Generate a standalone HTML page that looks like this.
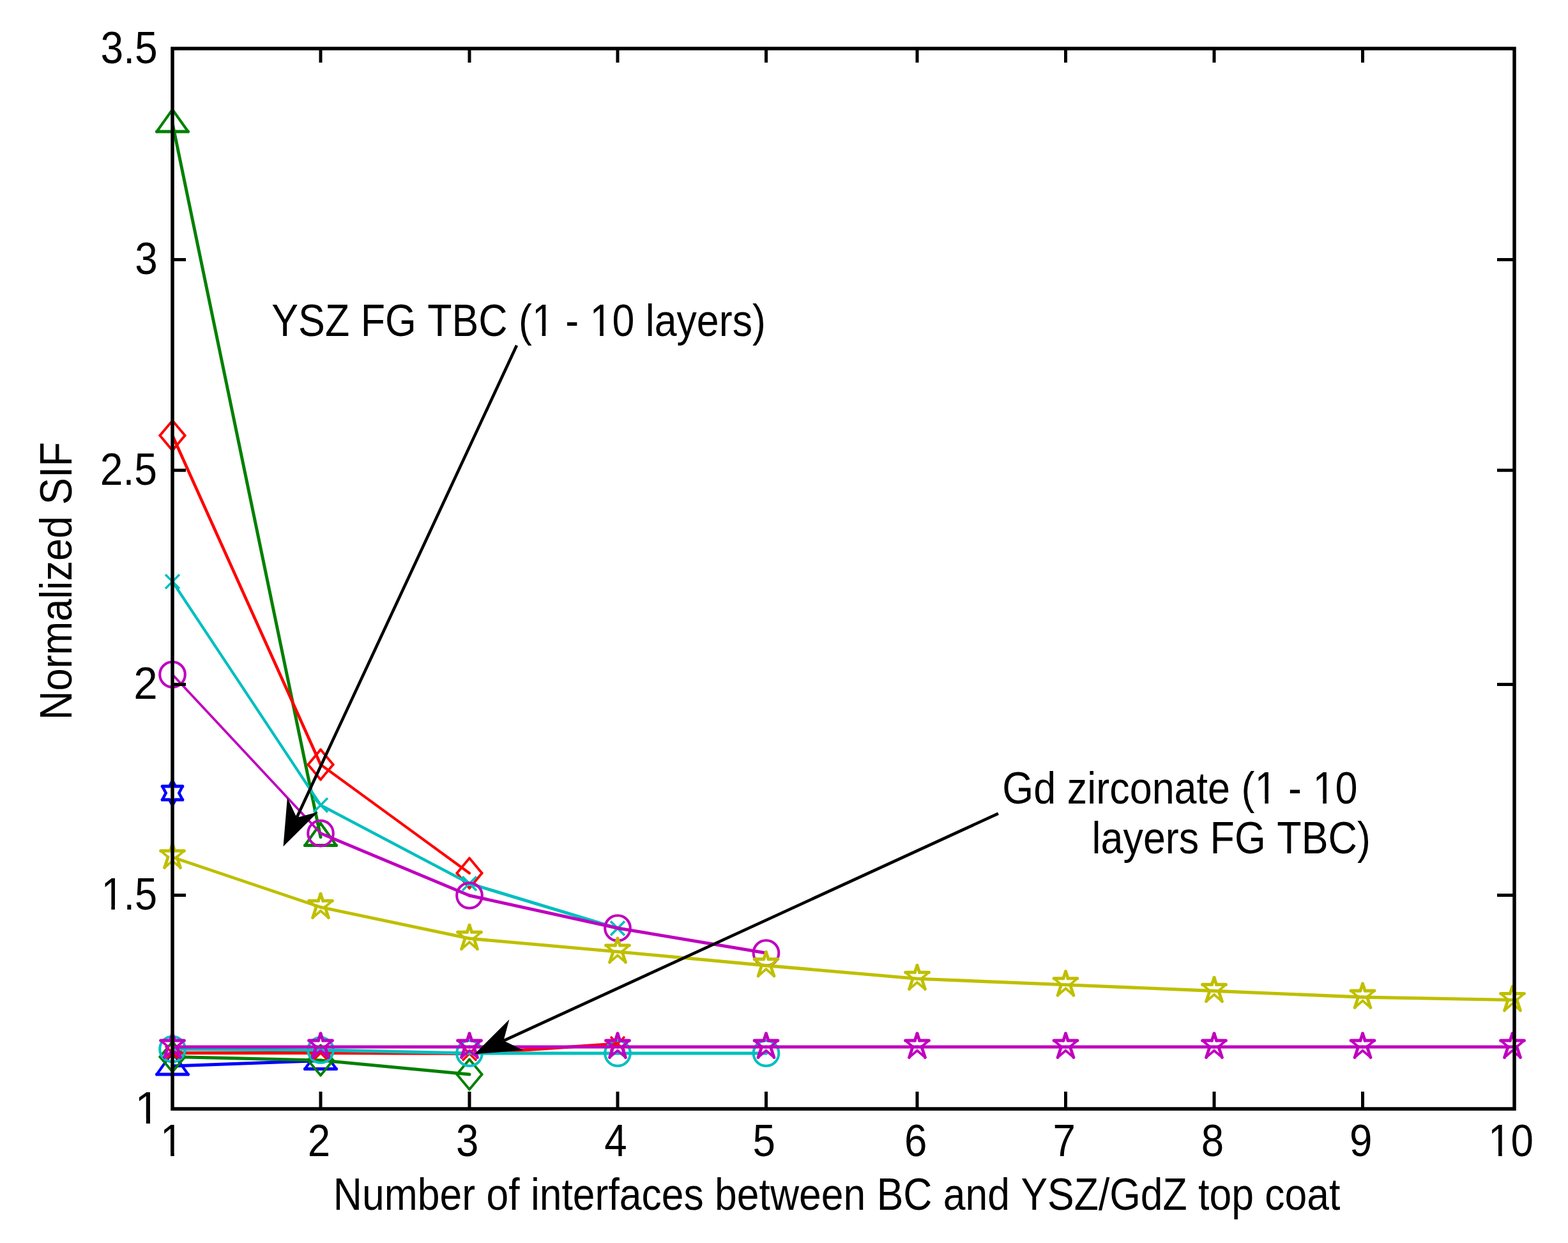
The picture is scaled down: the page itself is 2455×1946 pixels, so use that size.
<!DOCTYPE html><html><head><meta charset="utf-8"><title>Normalized SIF vs number of interfaces</title>
<style>html,body{margin:0;padding:0;background:#fff;}body{width:2455px;height:1946px;overflow:hidden;}svg{display:block;}text{font-family:"Liberation Sans", Arial, Helvetica, sans-serif;fill:#000;}</style></head><body>
<svg width="2455" height="1946" viewBox="0 0 2455 1946">
<rect width="2455" height="1946" fill="#fff"/>
<g id="gdz">
<g><line x1="270" y1="1669" x2="502" y2="1660.5" stroke="#0000FF" stroke-width="5.10" stroke-linecap="round"/><line x1="270" y1="1647.5" x2="294.5" y2="1682" stroke="#0000FF" stroke-width="4.16" stroke-linecap="round"/><line x1="294.5" y1="1682" x2="245.5" y2="1682" stroke="#0000FF" stroke-width="5.10" stroke-linecap="round"/><line x1="245.5" y1="1682" x2="270" y2="1647.5" stroke="#0000FF" stroke-width="4.16" stroke-linecap="round"/><line x1="502" y1="1639" x2="526.5" y2="1673.5" stroke="#0000FF" stroke-width="4.16" stroke-linecap="round"/><line x1="526.5" y1="1673.5" x2="477.5" y2="1673.5" stroke="#0000FF" stroke-width="5.10" stroke-linecap="round"/><line x1="477.5" y1="1673.5" x2="502" y2="1639" stroke="#0000FF" stroke-width="4.16" stroke-linecap="round"/></g>
<g><line x1="270" y1="1654.5" x2="502" y2="1660" stroke="#008000" stroke-width="5.10" stroke-linecap="round"/><line x1="502" y1="1660" x2="735" y2="1682" stroke="#008000" stroke-width="5.08" stroke-linecap="round"/><line x1="270" y1="1631.1" x2="289.6" y2="1654.5" stroke="#008000" stroke-width="3.91" stroke-linecap="round"/><line x1="289.6" y1="1654.5" x2="270" y2="1677.9" stroke="#008000" stroke-width="3.91" stroke-linecap="round"/><line x1="270" y1="1677.9" x2="250.4" y2="1654.5" stroke="#008000" stroke-width="3.91" stroke-linecap="round"/><line x1="250.4" y1="1654.5" x2="270" y2="1631.1" stroke="#008000" stroke-width="3.91" stroke-linecap="round"/><line x1="502" y1="1636.6" x2="521.6" y2="1660" stroke="#008000" stroke-width="3.91" stroke-linecap="round"/><line x1="521.6" y1="1660" x2="502" y2="1683.4" stroke="#008000" stroke-width="3.91" stroke-linecap="round"/><line x1="502" y1="1683.4" x2="482.4" y2="1660" stroke="#008000" stroke-width="3.91" stroke-linecap="round"/><line x1="482.4" y1="1660" x2="502" y2="1636.6" stroke="#008000" stroke-width="3.91" stroke-linecap="round"/><line x1="735" y1="1658.6" x2="754.6" y2="1682" stroke="#008000" stroke-width="3.91" stroke-linecap="round"/><line x1="754.6" y1="1682" x2="735" y2="1705.4" stroke="#008000" stroke-width="3.91" stroke-linecap="round"/><line x1="735" y1="1705.4" x2="715.4" y2="1682" stroke="#008000" stroke-width="3.91" stroke-linecap="round"/><line x1="715.4" y1="1682" x2="735" y2="1658.6" stroke="#008000" stroke-width="3.91" stroke-linecap="round"/></g>
<g><line x1="270" y1="1648.5" x2="502" y2="1648.5" stroke="#FF0000" stroke-width="5.10" stroke-linecap="round"/><line x1="502" y1="1648.5" x2="735" y2="1649.5" stroke="#FF0000" stroke-width="5.10" stroke-linecap="round"/><line x1="735" y1="1649.5" x2="967" y2="1634" stroke="#FF0000" stroke-width="5.09" stroke-linecap="round"/><line x1="259" y1="1637.5" x2="281" y2="1659.5" stroke="#FF0000" stroke-width="3.61" stroke-linecap="butt"/><line x1="259" y1="1659.5" x2="281" y2="1637.5" stroke="#FF0000" stroke-width="3.61" stroke-linecap="butt"/><line x1="491" y1="1637.5" x2="513" y2="1659.5" stroke="#FF0000" stroke-width="3.61" stroke-linecap="butt"/><line x1="491" y1="1659.5" x2="513" y2="1637.5" stroke="#FF0000" stroke-width="3.61" stroke-linecap="butt"/><line x1="724" y1="1638.5" x2="746" y2="1660.5" stroke="#FF0000" stroke-width="3.61" stroke-linecap="butt"/><line x1="724" y1="1660.5" x2="746" y2="1638.5" stroke="#FF0000" stroke-width="3.61" stroke-linecap="butt"/><line x1="956" y1="1623" x2="978" y2="1645" stroke="#FF0000" stroke-width="3.61" stroke-linecap="butt"/><line x1="956" y1="1645" x2="978" y2="1623" stroke="#FF0000" stroke-width="3.61" stroke-linecap="butt"/></g>
<g><line x1="270" y1="1642.5" x2="502" y2="1644" stroke="#00BFBF" stroke-width="5.10" stroke-linecap="round"/><line x1="502" y1="1644" x2="735" y2="1649" stroke="#00BFBF" stroke-width="5.10" stroke-linecap="round"/><line x1="735" y1="1649" x2="967" y2="1649" stroke="#00BFBF" stroke-width="5.10" stroke-linecap="round"/><line x1="967" y1="1649" x2="1199.5" y2="1649" stroke="#00BFBF" stroke-width="5.10" stroke-linecap="round"/><circle cx="270" cy="1642.5" r="19.8" fill="none" stroke="#00BFBF" stroke-width="4.1"/><circle cx="502" cy="1644" r="19.8" fill="none" stroke="#00BFBF" stroke-width="4.1"/><circle cx="735" cy="1649" r="19.8" fill="none" stroke="#00BFBF" stroke-width="4.1"/><circle cx="967" cy="1649" r="19.8" fill="none" stroke="#00BFBF" stroke-width="4.1"/><circle cx="1199.5" cy="1649" r="19.8" fill="none" stroke="#00BFBF" stroke-width="4.1"/></g>
<g><line x1="270" y1="1639" x2="502" y2="1639" stroke="#BF00BF" stroke-width="5.10" stroke-linecap="round"/><line x1="502" y1="1639" x2="735" y2="1639" stroke="#BF00BF" stroke-width="5.10" stroke-linecap="round"/><line x1="735" y1="1639" x2="967" y2="1639" stroke="#BF00BF" stroke-width="5.10" stroke-linecap="round"/><line x1="967" y1="1639" x2="1199.5" y2="1639" stroke="#BF00BF" stroke-width="5.10" stroke-linecap="round"/><line x1="1199.5" y1="1639" x2="1436" y2="1639" stroke="#BF00BF" stroke-width="5.10" stroke-linecap="round"/><line x1="1436" y1="1639" x2="1668.5" y2="1639" stroke="#BF00BF" stroke-width="5.10" stroke-linecap="round"/><line x1="1668.5" y1="1639" x2="1901" y2="1639" stroke="#BF00BF" stroke-width="5.10" stroke-linecap="round"/><line x1="1901" y1="1639" x2="2133.5" y2="1639" stroke="#BF00BF" stroke-width="5.10" stroke-linecap="round"/><line x1="2133.5" y1="1639" x2="2368" y2="1639" stroke="#BF00BF" stroke-width="5.10" stroke-linecap="round"/><line x1="270" y1="1618" x2="273.65" y2="1629" stroke="#BF00BF" stroke-width="4.84" stroke-linecap="round"/><line x1="273.65" y1="1629" x2="288.3" y2="1629" stroke="#BF00BF" stroke-width="5.10" stroke-linecap="round"/><line x1="288.3" y1="1629" x2="276.9" y2="1638.81" stroke="#BF00BF" stroke-width="3.87" stroke-linecap="round"/><line x1="276.9" y1="1638.81" x2="282.4" y2="1655.4" stroke="#BF00BF" stroke-width="4.84" stroke-linecap="round"/><line x1="282.4" y1="1655.4" x2="270" y2="1644.74" stroke="#BF00BF" stroke-width="3.87" stroke-linecap="round"/><line x1="270" y1="1644.74" x2="257.6" y2="1655.4" stroke="#BF00BF" stroke-width="3.87" stroke-linecap="round"/><line x1="257.6" y1="1655.4" x2="263.1" y2="1638.81" stroke="#BF00BF" stroke-width="4.84" stroke-linecap="round"/><line x1="263.1" y1="1638.81" x2="251.7" y2="1629" stroke="#BF00BF" stroke-width="3.87" stroke-linecap="round"/><line x1="251.7" y1="1629" x2="266.35" y2="1629" stroke="#BF00BF" stroke-width="5.10" stroke-linecap="round"/><line x1="266.35" y1="1629" x2="270" y2="1618" stroke="#BF00BF" stroke-width="4.84" stroke-linecap="round"/><line x1="502" y1="1618" x2="505.65" y2="1629" stroke="#BF00BF" stroke-width="4.84" stroke-linecap="round"/><line x1="505.65" y1="1629" x2="520.3" y2="1629" stroke="#BF00BF" stroke-width="5.10" stroke-linecap="round"/><line x1="520.3" y1="1629" x2="508.9" y2="1638.81" stroke="#BF00BF" stroke-width="3.87" stroke-linecap="round"/><line x1="508.9" y1="1638.81" x2="514.4" y2="1655.4" stroke="#BF00BF" stroke-width="4.84" stroke-linecap="round"/><line x1="514.4" y1="1655.4" x2="502" y2="1644.74" stroke="#BF00BF" stroke-width="3.87" stroke-linecap="round"/><line x1="502" y1="1644.74" x2="489.6" y2="1655.4" stroke="#BF00BF" stroke-width="3.87" stroke-linecap="round"/><line x1="489.6" y1="1655.4" x2="495.1" y2="1638.81" stroke="#BF00BF" stroke-width="4.84" stroke-linecap="round"/><line x1="495.1" y1="1638.81" x2="483.7" y2="1629" stroke="#BF00BF" stroke-width="3.87" stroke-linecap="round"/><line x1="483.7" y1="1629" x2="498.35" y2="1629" stroke="#BF00BF" stroke-width="5.10" stroke-linecap="round"/><line x1="498.35" y1="1629" x2="502" y2="1618" stroke="#BF00BF" stroke-width="4.84" stroke-linecap="round"/><line x1="735" y1="1618" x2="738.65" y2="1629" stroke="#BF00BF" stroke-width="4.84" stroke-linecap="round"/><line x1="738.65" y1="1629" x2="753.3" y2="1629" stroke="#BF00BF" stroke-width="5.10" stroke-linecap="round"/><line x1="753.3" y1="1629" x2="741.9" y2="1638.81" stroke="#BF00BF" stroke-width="3.87" stroke-linecap="round"/><line x1="741.9" y1="1638.81" x2="747.4" y2="1655.4" stroke="#BF00BF" stroke-width="4.84" stroke-linecap="round"/><line x1="747.4" y1="1655.4" x2="735" y2="1644.74" stroke="#BF00BF" stroke-width="3.87" stroke-linecap="round"/><line x1="735" y1="1644.74" x2="722.6" y2="1655.4" stroke="#BF00BF" stroke-width="3.87" stroke-linecap="round"/><line x1="722.6" y1="1655.4" x2="728.1" y2="1638.81" stroke="#BF00BF" stroke-width="4.84" stroke-linecap="round"/><line x1="728.1" y1="1638.81" x2="716.7" y2="1629" stroke="#BF00BF" stroke-width="3.87" stroke-linecap="round"/><line x1="716.7" y1="1629" x2="731.35" y2="1629" stroke="#BF00BF" stroke-width="5.10" stroke-linecap="round"/><line x1="731.35" y1="1629" x2="735" y2="1618" stroke="#BF00BF" stroke-width="4.84" stroke-linecap="round"/><line x1="967" y1="1618" x2="970.65" y2="1629" stroke="#BF00BF" stroke-width="4.84" stroke-linecap="round"/><line x1="970.65" y1="1629" x2="985.3" y2="1629" stroke="#BF00BF" stroke-width="5.10" stroke-linecap="round"/><line x1="985.3" y1="1629" x2="973.9" y2="1638.81" stroke="#BF00BF" stroke-width="3.87" stroke-linecap="round"/><line x1="973.9" y1="1638.81" x2="979.4" y2="1655.4" stroke="#BF00BF" stroke-width="4.84" stroke-linecap="round"/><line x1="979.4" y1="1655.4" x2="967" y2="1644.74" stroke="#BF00BF" stroke-width="3.87" stroke-linecap="round"/><line x1="967" y1="1644.74" x2="954.6" y2="1655.4" stroke="#BF00BF" stroke-width="3.87" stroke-linecap="round"/><line x1="954.6" y1="1655.4" x2="960.1" y2="1638.81" stroke="#BF00BF" stroke-width="4.84" stroke-linecap="round"/><line x1="960.1" y1="1638.81" x2="948.7" y2="1629" stroke="#BF00BF" stroke-width="3.87" stroke-linecap="round"/><line x1="948.7" y1="1629" x2="963.35" y2="1629" stroke="#BF00BF" stroke-width="5.10" stroke-linecap="round"/><line x1="963.35" y1="1629" x2="967" y2="1618" stroke="#BF00BF" stroke-width="4.84" stroke-linecap="round"/><line x1="1199.5" y1="1618" x2="1203.15" y2="1629" stroke="#BF00BF" stroke-width="4.84" stroke-linecap="round"/><line x1="1203.15" y1="1629" x2="1217.8" y2="1629" stroke="#BF00BF" stroke-width="5.10" stroke-linecap="round"/><line x1="1217.8" y1="1629" x2="1206.4" y2="1638.81" stroke="#BF00BF" stroke-width="3.87" stroke-linecap="round"/><line x1="1206.4" y1="1638.81" x2="1211.9" y2="1655.4" stroke="#BF00BF" stroke-width="4.84" stroke-linecap="round"/><line x1="1211.9" y1="1655.4" x2="1199.5" y2="1644.74" stroke="#BF00BF" stroke-width="3.87" stroke-linecap="round"/><line x1="1199.5" y1="1644.74" x2="1187.1" y2="1655.4" stroke="#BF00BF" stroke-width="3.87" stroke-linecap="round"/><line x1="1187.1" y1="1655.4" x2="1192.6" y2="1638.81" stroke="#BF00BF" stroke-width="4.84" stroke-linecap="round"/><line x1="1192.6" y1="1638.81" x2="1181.2" y2="1629" stroke="#BF00BF" stroke-width="3.87" stroke-linecap="round"/><line x1="1181.2" y1="1629" x2="1195.85" y2="1629" stroke="#BF00BF" stroke-width="5.10" stroke-linecap="round"/><line x1="1195.85" y1="1629" x2="1199.5" y2="1618" stroke="#BF00BF" stroke-width="4.84" stroke-linecap="round"/><line x1="1436" y1="1618" x2="1439.65" y2="1629" stroke="#BF00BF" stroke-width="4.84" stroke-linecap="round"/><line x1="1439.65" y1="1629" x2="1454.3" y2="1629" stroke="#BF00BF" stroke-width="5.10" stroke-linecap="round"/><line x1="1454.3" y1="1629" x2="1442.9" y2="1638.81" stroke="#BF00BF" stroke-width="3.87" stroke-linecap="round"/><line x1="1442.9" y1="1638.81" x2="1448.4" y2="1655.4" stroke="#BF00BF" stroke-width="4.84" stroke-linecap="round"/><line x1="1448.4" y1="1655.4" x2="1436" y2="1644.74" stroke="#BF00BF" stroke-width="3.87" stroke-linecap="round"/><line x1="1436" y1="1644.74" x2="1423.6" y2="1655.4" stroke="#BF00BF" stroke-width="3.87" stroke-linecap="round"/><line x1="1423.6" y1="1655.4" x2="1429.1" y2="1638.81" stroke="#BF00BF" stroke-width="4.84" stroke-linecap="round"/><line x1="1429.1" y1="1638.81" x2="1417.7" y2="1629" stroke="#BF00BF" stroke-width="3.87" stroke-linecap="round"/><line x1="1417.7" y1="1629" x2="1432.35" y2="1629" stroke="#BF00BF" stroke-width="5.10" stroke-linecap="round"/><line x1="1432.35" y1="1629" x2="1436" y2="1618" stroke="#BF00BF" stroke-width="4.84" stroke-linecap="round"/><line x1="1668.5" y1="1618" x2="1672.15" y2="1629" stroke="#BF00BF" stroke-width="4.84" stroke-linecap="round"/><line x1="1672.15" y1="1629" x2="1686.8" y2="1629" stroke="#BF00BF" stroke-width="5.10" stroke-linecap="round"/><line x1="1686.8" y1="1629" x2="1675.4" y2="1638.81" stroke="#BF00BF" stroke-width="3.87" stroke-linecap="round"/><line x1="1675.4" y1="1638.81" x2="1680.9" y2="1655.4" stroke="#BF00BF" stroke-width="4.84" stroke-linecap="round"/><line x1="1680.9" y1="1655.4" x2="1668.5" y2="1644.74" stroke="#BF00BF" stroke-width="3.87" stroke-linecap="round"/><line x1="1668.5" y1="1644.74" x2="1656.1" y2="1655.4" stroke="#BF00BF" stroke-width="3.87" stroke-linecap="round"/><line x1="1656.1" y1="1655.4" x2="1661.6" y2="1638.81" stroke="#BF00BF" stroke-width="4.84" stroke-linecap="round"/><line x1="1661.6" y1="1638.81" x2="1650.2" y2="1629" stroke="#BF00BF" stroke-width="3.87" stroke-linecap="round"/><line x1="1650.2" y1="1629" x2="1664.85" y2="1629" stroke="#BF00BF" stroke-width="5.10" stroke-linecap="round"/><line x1="1664.85" y1="1629" x2="1668.5" y2="1618" stroke="#BF00BF" stroke-width="4.84" stroke-linecap="round"/><line x1="1901" y1="1618" x2="1904.65" y2="1629" stroke="#BF00BF" stroke-width="4.84" stroke-linecap="round"/><line x1="1904.65" y1="1629" x2="1919.3" y2="1629" stroke="#BF00BF" stroke-width="5.10" stroke-linecap="round"/><line x1="1919.3" y1="1629" x2="1907.9" y2="1638.81" stroke="#BF00BF" stroke-width="3.87" stroke-linecap="round"/><line x1="1907.9" y1="1638.81" x2="1913.4" y2="1655.4" stroke="#BF00BF" stroke-width="4.84" stroke-linecap="round"/><line x1="1913.4" y1="1655.4" x2="1901" y2="1644.74" stroke="#BF00BF" stroke-width="3.87" stroke-linecap="round"/><line x1="1901" y1="1644.74" x2="1888.6" y2="1655.4" stroke="#BF00BF" stroke-width="3.87" stroke-linecap="round"/><line x1="1888.6" y1="1655.4" x2="1894.1" y2="1638.81" stroke="#BF00BF" stroke-width="4.84" stroke-linecap="round"/><line x1="1894.1" y1="1638.81" x2="1882.7" y2="1629" stroke="#BF00BF" stroke-width="3.87" stroke-linecap="round"/><line x1="1882.7" y1="1629" x2="1897.35" y2="1629" stroke="#BF00BF" stroke-width="5.10" stroke-linecap="round"/><line x1="1897.35" y1="1629" x2="1901" y2="1618" stroke="#BF00BF" stroke-width="4.84" stroke-linecap="round"/><line x1="2133.5" y1="1618" x2="2137.15" y2="1629" stroke="#BF00BF" stroke-width="4.84" stroke-linecap="round"/><line x1="2137.15" y1="1629" x2="2151.8" y2="1629" stroke="#BF00BF" stroke-width="5.10" stroke-linecap="round"/><line x1="2151.8" y1="1629" x2="2140.4" y2="1638.81" stroke="#BF00BF" stroke-width="3.87" stroke-linecap="round"/><line x1="2140.4" y1="1638.81" x2="2145.9" y2="1655.4" stroke="#BF00BF" stroke-width="4.84" stroke-linecap="round"/><line x1="2145.9" y1="1655.4" x2="2133.5" y2="1644.74" stroke="#BF00BF" stroke-width="3.87" stroke-linecap="round"/><line x1="2133.5" y1="1644.74" x2="2121.1" y2="1655.4" stroke="#BF00BF" stroke-width="3.87" stroke-linecap="round"/><line x1="2121.1" y1="1655.4" x2="2126.6" y2="1638.81" stroke="#BF00BF" stroke-width="4.84" stroke-linecap="round"/><line x1="2126.6" y1="1638.81" x2="2115.2" y2="1629" stroke="#BF00BF" stroke-width="3.87" stroke-linecap="round"/><line x1="2115.2" y1="1629" x2="2129.85" y2="1629" stroke="#BF00BF" stroke-width="5.10" stroke-linecap="round"/><line x1="2129.85" y1="1629" x2="2133.5" y2="1618" stroke="#BF00BF" stroke-width="4.84" stroke-linecap="round"/><line x1="2368" y1="1618" x2="2371.65" y2="1629" stroke="#BF00BF" stroke-width="4.84" stroke-linecap="round"/><line x1="2371.65" y1="1629" x2="2386.3" y2="1629" stroke="#BF00BF" stroke-width="5.10" stroke-linecap="round"/><line x1="2386.3" y1="1629" x2="2374.9" y2="1638.81" stroke="#BF00BF" stroke-width="3.87" stroke-linecap="round"/><line x1="2374.9" y1="1638.81" x2="2380.4" y2="1655.4" stroke="#BF00BF" stroke-width="4.84" stroke-linecap="round"/><line x1="2380.4" y1="1655.4" x2="2368" y2="1644.74" stroke="#BF00BF" stroke-width="3.87" stroke-linecap="round"/><line x1="2368" y1="1644.74" x2="2355.6" y2="1655.4" stroke="#BF00BF" stroke-width="3.87" stroke-linecap="round"/><line x1="2355.6" y1="1655.4" x2="2361.1" y2="1638.81" stroke="#BF00BF" stroke-width="4.84" stroke-linecap="round"/><line x1="2361.1" y1="1638.81" x2="2349.7" y2="1629" stroke="#BF00BF" stroke-width="3.87" stroke-linecap="round"/><line x1="2349.7" y1="1629" x2="2364.35" y2="1629" stroke="#BF00BF" stroke-width="5.10" stroke-linecap="round"/><line x1="2364.35" y1="1629" x2="2368" y2="1618" stroke="#BF00BF" stroke-width="4.84" stroke-linecap="round"/></g>
</g>
<g id="ysz">
<g><line x1="270" y1="1222" x2="274.74" y2="1231" stroke="#0000FF" stroke-width="4.51" stroke-linecap="round"/><line x1="274.74" y1="1231" x2="285.8" y2="1231" stroke="#0000FF" stroke-width="5.10" stroke-linecap="round"/><line x1="285.8" y1="1231" x2="280.27" y2="1241.5" stroke="#0000FF" stroke-width="4.51" stroke-linecap="round"/><line x1="280.27" y1="1241.5" x2="285.8" y2="1252" stroke="#0000FF" stroke-width="4.51" stroke-linecap="round"/><line x1="285.8" y1="1252" x2="274.74" y2="1252" stroke="#0000FF" stroke-width="5.10" stroke-linecap="round"/><line x1="274.74" y1="1252" x2="270" y2="1261" stroke="#0000FF" stroke-width="4.51" stroke-linecap="round"/><line x1="270" y1="1261" x2="265.26" y2="1252" stroke="#0000FF" stroke-width="4.51" stroke-linecap="round"/><line x1="265.26" y1="1252" x2="254.2" y2="1252" stroke="#0000FF" stroke-width="5.10" stroke-linecap="round"/><line x1="254.2" y1="1252" x2="259.73" y2="1241.5" stroke="#0000FF" stroke-width="4.51" stroke-linecap="round"/><line x1="259.73" y1="1241.5" x2="254.2" y2="1231" stroke="#0000FF" stroke-width="4.51" stroke-linecap="round"/><line x1="254.2" y1="1231" x2="265.26" y2="1231" stroke="#0000FF" stroke-width="5.10" stroke-linecap="round"/><line x1="265.26" y1="1231" x2="270" y2="1222" stroke="#0000FF" stroke-width="4.51" stroke-linecap="round"/></g>
<g><line x1="270" y1="193" x2="502" y2="1310.5" stroke="#008000" stroke-width="4.99" stroke-linecap="round"/><line x1="270" y1="171.5" x2="294.5" y2="206" stroke="#008000" stroke-width="4.16" stroke-linecap="round"/><line x1="294.5" y1="206" x2="245.5" y2="206" stroke="#008000" stroke-width="5.10" stroke-linecap="round"/><line x1="245.5" y1="206" x2="270" y2="171.5" stroke="#008000" stroke-width="4.16" stroke-linecap="round"/><line x1="502" y1="1289" x2="526.5" y2="1323.5" stroke="#008000" stroke-width="4.16" stroke-linecap="round"/><line x1="526.5" y1="1323.5" x2="477.5" y2="1323.5" stroke="#008000" stroke-width="5.10" stroke-linecap="round"/><line x1="477.5" y1="1323.5" x2="502" y2="1289" stroke="#008000" stroke-width="4.16" stroke-linecap="round"/></g>
<g><line x1="270" y1="681.8" x2="502" y2="1197" stroke="#FF0000" stroke-width="4.65" stroke-linecap="round"/><line x1="502" y1="1197" x2="735" y2="1367" stroke="#FF0000" stroke-width="4.12" stroke-linecap="round"/><line x1="270" y1="658.4" x2="289.6" y2="681.8" stroke="#FF0000" stroke-width="3.91" stroke-linecap="round"/><line x1="289.6" y1="681.8" x2="270" y2="705.2" stroke="#FF0000" stroke-width="3.91" stroke-linecap="round"/><line x1="270" y1="705.2" x2="250.4" y2="681.8" stroke="#FF0000" stroke-width="3.91" stroke-linecap="round"/><line x1="250.4" y1="681.8" x2="270" y2="658.4" stroke="#FF0000" stroke-width="3.91" stroke-linecap="round"/><line x1="502" y1="1173.6" x2="521.6" y2="1197" stroke="#FF0000" stroke-width="3.91" stroke-linecap="round"/><line x1="521.6" y1="1197" x2="502" y2="1220.4" stroke="#FF0000" stroke-width="3.91" stroke-linecap="round"/><line x1="502" y1="1220.4" x2="482.4" y2="1197" stroke="#FF0000" stroke-width="3.91" stroke-linecap="round"/><line x1="482.4" y1="1197" x2="502" y2="1173.6" stroke="#FF0000" stroke-width="3.91" stroke-linecap="round"/><line x1="735" y1="1343.6" x2="754.6" y2="1367" stroke="#FF0000" stroke-width="3.91" stroke-linecap="round"/><line x1="754.6" y1="1367" x2="735" y2="1390.4" stroke="#FF0000" stroke-width="3.91" stroke-linecap="round"/><line x1="735" y1="1390.4" x2="715.4" y2="1367" stroke="#FF0000" stroke-width="3.91" stroke-linecap="round"/><line x1="715.4" y1="1367" x2="735" y2="1343.6" stroke="#FF0000" stroke-width="3.91" stroke-linecap="round"/></g>
<g><line x1="270" y1="910.5" x2="502" y2="1260.5" stroke="#00BFBF" stroke-width="4.25" stroke-linecap="round"/><line x1="502" y1="1260.5" x2="735" y2="1383.2" stroke="#00BFBF" stroke-width="4.51" stroke-linecap="round"/><line x1="735" y1="1383.2" x2="967" y2="1453.4" stroke="#00BFBF" stroke-width="4.88" stroke-linecap="round"/><line x1="259" y1="899.5" x2="281" y2="921.5" stroke="#00BFBF" stroke-width="3.61" stroke-linecap="butt"/><line x1="259" y1="921.5" x2="281" y2="899.5" stroke="#00BFBF" stroke-width="3.61" stroke-linecap="butt"/><line x1="491" y1="1249.5" x2="513" y2="1271.5" stroke="#00BFBF" stroke-width="3.61" stroke-linecap="butt"/><line x1="491" y1="1271.5" x2="513" y2="1249.5" stroke="#00BFBF" stroke-width="3.61" stroke-linecap="butt"/><line x1="724" y1="1372.2" x2="746" y2="1394.2" stroke="#00BFBF" stroke-width="3.61" stroke-linecap="butt"/><line x1="724" y1="1394.2" x2="746" y2="1372.2" stroke="#00BFBF" stroke-width="3.61" stroke-linecap="butt"/><line x1="956" y1="1442.4" x2="978" y2="1464.4" stroke="#00BFBF" stroke-width="3.61" stroke-linecap="butt"/><line x1="956" y1="1464.4" x2="978" y2="1442.4" stroke="#00BFBF" stroke-width="3.61" stroke-linecap="butt"/></g>
<g><line x1="270" y1="1056" x2="502" y2="1304.6" stroke="#BF00BF" stroke-width="3.73" stroke-linecap="round"/><line x1="502" y1="1304.6" x2="735" y2="1402" stroke="#BF00BF" stroke-width="4.71" stroke-linecap="round"/><line x1="735" y1="1402" x2="967" y2="1453" stroke="#BF00BF" stroke-width="4.98" stroke-linecap="round"/><line x1="967" y1="1453" x2="1199.5" y2="1492" stroke="#BF00BF" stroke-width="5.03" stroke-linecap="round"/><circle cx="270" cy="1056" r="19.8" fill="none" stroke="#BF00BF" stroke-width="4.1"/><circle cx="502" cy="1304.6" r="19.8" fill="none" stroke="#BF00BF" stroke-width="4.1"/><circle cx="735" cy="1402" r="19.8" fill="none" stroke="#BF00BF" stroke-width="4.1"/><circle cx="967" cy="1453" r="19.8" fill="none" stroke="#BF00BF" stroke-width="4.1"/><circle cx="1199.5" cy="1492" r="19.8" fill="none" stroke="#BF00BF" stroke-width="4.1"/></g>
<g><line x1="270" y1="1342" x2="502" y2="1420.3" stroke="#BFBF00" stroke-width="4.83" stroke-linecap="round"/><line x1="502" y1="1420.3" x2="735" y2="1469.3" stroke="#BFBF00" stroke-width="4.99" stroke-linecap="round"/><line x1="735" y1="1469.3" x2="967" y2="1490" stroke="#BFBF00" stroke-width="5.08" stroke-linecap="round"/><line x1="967" y1="1490" x2="1199.5" y2="1511.6" stroke="#BFBF00" stroke-width="5.08" stroke-linecap="round"/><line x1="1199.5" y1="1511.6" x2="1436" y2="1532.2" stroke="#BFBF00" stroke-width="5.08" stroke-linecap="round"/><line x1="1436" y1="1532.2" x2="1668.5" y2="1541.8" stroke="#BFBF00" stroke-width="5.10" stroke-linecap="round"/><line x1="1668.5" y1="1541.8" x2="1901" y2="1551.4" stroke="#BFBF00" stroke-width="5.10" stroke-linecap="round"/><line x1="1901" y1="1551.4" x2="2133.5" y2="1561.1" stroke="#BFBF00" stroke-width="5.10" stroke-linecap="round"/><line x1="2133.5" y1="1561.1" x2="2368" y2="1565.5" stroke="#BFBF00" stroke-width="5.10" stroke-linecap="round"/><line x1="270" y1="1321" x2="273.65" y2="1332" stroke="#BFBF00" stroke-width="4.84" stroke-linecap="round"/><line x1="273.65" y1="1332" x2="288.3" y2="1332" stroke="#BFBF00" stroke-width="5.10" stroke-linecap="round"/><line x1="288.3" y1="1332" x2="276.9" y2="1341.81" stroke="#BFBF00" stroke-width="3.87" stroke-linecap="round"/><line x1="276.9" y1="1341.81" x2="282.4" y2="1358.4" stroke="#BFBF00" stroke-width="4.84" stroke-linecap="round"/><line x1="282.4" y1="1358.4" x2="270" y2="1347.74" stroke="#BFBF00" stroke-width="3.87" stroke-linecap="round"/><line x1="270" y1="1347.74" x2="257.6" y2="1358.4" stroke="#BFBF00" stroke-width="3.87" stroke-linecap="round"/><line x1="257.6" y1="1358.4" x2="263.1" y2="1341.81" stroke="#BFBF00" stroke-width="4.84" stroke-linecap="round"/><line x1="263.1" y1="1341.81" x2="251.7" y2="1332" stroke="#BFBF00" stroke-width="3.87" stroke-linecap="round"/><line x1="251.7" y1="1332" x2="266.35" y2="1332" stroke="#BFBF00" stroke-width="5.10" stroke-linecap="round"/><line x1="266.35" y1="1332" x2="270" y2="1321" stroke="#BFBF00" stroke-width="4.84" stroke-linecap="round"/><line x1="502" y1="1399.3" x2="505.65" y2="1410.3" stroke="#BFBF00" stroke-width="4.84" stroke-linecap="round"/><line x1="505.65" y1="1410.3" x2="520.3" y2="1410.3" stroke="#BFBF00" stroke-width="5.10" stroke-linecap="round"/><line x1="520.3" y1="1410.3" x2="508.9" y2="1420.11" stroke="#BFBF00" stroke-width="3.87" stroke-linecap="round"/><line x1="508.9" y1="1420.11" x2="514.4" y2="1436.7" stroke="#BFBF00" stroke-width="4.84" stroke-linecap="round"/><line x1="514.4" y1="1436.7" x2="502" y2="1426.04" stroke="#BFBF00" stroke-width="3.87" stroke-linecap="round"/><line x1="502" y1="1426.04" x2="489.6" y2="1436.7" stroke="#BFBF00" stroke-width="3.87" stroke-linecap="round"/><line x1="489.6" y1="1436.7" x2="495.1" y2="1420.11" stroke="#BFBF00" stroke-width="4.84" stroke-linecap="round"/><line x1="495.1" y1="1420.11" x2="483.7" y2="1410.3" stroke="#BFBF00" stroke-width="3.87" stroke-linecap="round"/><line x1="483.7" y1="1410.3" x2="498.35" y2="1410.3" stroke="#BFBF00" stroke-width="5.10" stroke-linecap="round"/><line x1="498.35" y1="1410.3" x2="502" y2="1399.3" stroke="#BFBF00" stroke-width="4.84" stroke-linecap="round"/><line x1="735" y1="1448.3" x2="738.65" y2="1459.3" stroke="#BFBF00" stroke-width="4.84" stroke-linecap="round"/><line x1="738.65" y1="1459.3" x2="753.3" y2="1459.3" stroke="#BFBF00" stroke-width="5.10" stroke-linecap="round"/><line x1="753.3" y1="1459.3" x2="741.9" y2="1469.11" stroke="#BFBF00" stroke-width="3.87" stroke-linecap="round"/><line x1="741.9" y1="1469.11" x2="747.4" y2="1485.7" stroke="#BFBF00" stroke-width="4.84" stroke-linecap="round"/><line x1="747.4" y1="1485.7" x2="735" y2="1475.04" stroke="#BFBF00" stroke-width="3.87" stroke-linecap="round"/><line x1="735" y1="1475.04" x2="722.6" y2="1485.7" stroke="#BFBF00" stroke-width="3.87" stroke-linecap="round"/><line x1="722.6" y1="1485.7" x2="728.1" y2="1469.11" stroke="#BFBF00" stroke-width="4.84" stroke-linecap="round"/><line x1="728.1" y1="1469.11" x2="716.7" y2="1459.3" stroke="#BFBF00" stroke-width="3.87" stroke-linecap="round"/><line x1="716.7" y1="1459.3" x2="731.35" y2="1459.3" stroke="#BFBF00" stroke-width="5.10" stroke-linecap="round"/><line x1="731.35" y1="1459.3" x2="735" y2="1448.3" stroke="#BFBF00" stroke-width="4.84" stroke-linecap="round"/><line x1="967" y1="1469" x2="970.65" y2="1480" stroke="#BFBF00" stroke-width="4.84" stroke-linecap="round"/><line x1="970.65" y1="1480" x2="985.3" y2="1480" stroke="#BFBF00" stroke-width="5.10" stroke-linecap="round"/><line x1="985.3" y1="1480" x2="973.9" y2="1489.81" stroke="#BFBF00" stroke-width="3.87" stroke-linecap="round"/><line x1="973.9" y1="1489.81" x2="979.4" y2="1506.4" stroke="#BFBF00" stroke-width="4.84" stroke-linecap="round"/><line x1="979.4" y1="1506.4" x2="967" y2="1495.74" stroke="#BFBF00" stroke-width="3.87" stroke-linecap="round"/><line x1="967" y1="1495.74" x2="954.6" y2="1506.4" stroke="#BFBF00" stroke-width="3.87" stroke-linecap="round"/><line x1="954.6" y1="1506.4" x2="960.1" y2="1489.81" stroke="#BFBF00" stroke-width="4.84" stroke-linecap="round"/><line x1="960.1" y1="1489.81" x2="948.7" y2="1480" stroke="#BFBF00" stroke-width="3.87" stroke-linecap="round"/><line x1="948.7" y1="1480" x2="963.35" y2="1480" stroke="#BFBF00" stroke-width="5.10" stroke-linecap="round"/><line x1="963.35" y1="1480" x2="967" y2="1469" stroke="#BFBF00" stroke-width="4.84" stroke-linecap="round"/><line x1="1199.5" y1="1490.6" x2="1203.15" y2="1501.6" stroke="#BFBF00" stroke-width="4.84" stroke-linecap="round"/><line x1="1203.15" y1="1501.6" x2="1217.8" y2="1501.6" stroke="#BFBF00" stroke-width="5.10" stroke-linecap="round"/><line x1="1217.8" y1="1501.6" x2="1206.4" y2="1511.41" stroke="#BFBF00" stroke-width="3.87" stroke-linecap="round"/><line x1="1206.4" y1="1511.41" x2="1211.9" y2="1528" stroke="#BFBF00" stroke-width="4.84" stroke-linecap="round"/><line x1="1211.9" y1="1528" x2="1199.5" y2="1517.34" stroke="#BFBF00" stroke-width="3.87" stroke-linecap="round"/><line x1="1199.5" y1="1517.34" x2="1187.1" y2="1528" stroke="#BFBF00" stroke-width="3.87" stroke-linecap="round"/><line x1="1187.1" y1="1528" x2="1192.6" y2="1511.41" stroke="#BFBF00" stroke-width="4.84" stroke-linecap="round"/><line x1="1192.6" y1="1511.41" x2="1181.2" y2="1501.6" stroke="#BFBF00" stroke-width="3.87" stroke-linecap="round"/><line x1="1181.2" y1="1501.6" x2="1195.85" y2="1501.6" stroke="#BFBF00" stroke-width="5.10" stroke-linecap="round"/><line x1="1195.85" y1="1501.6" x2="1199.5" y2="1490.6" stroke="#BFBF00" stroke-width="4.84" stroke-linecap="round"/><line x1="1436" y1="1511.2" x2="1439.65" y2="1522.2" stroke="#BFBF00" stroke-width="4.84" stroke-linecap="round"/><line x1="1439.65" y1="1522.2" x2="1454.3" y2="1522.2" stroke="#BFBF00" stroke-width="5.10" stroke-linecap="round"/><line x1="1454.3" y1="1522.2" x2="1442.9" y2="1532.01" stroke="#BFBF00" stroke-width="3.87" stroke-linecap="round"/><line x1="1442.9" y1="1532.01" x2="1448.4" y2="1548.6" stroke="#BFBF00" stroke-width="4.84" stroke-linecap="round"/><line x1="1448.4" y1="1548.6" x2="1436" y2="1537.94" stroke="#BFBF00" stroke-width="3.87" stroke-linecap="round"/><line x1="1436" y1="1537.94" x2="1423.6" y2="1548.6" stroke="#BFBF00" stroke-width="3.87" stroke-linecap="round"/><line x1="1423.6" y1="1548.6" x2="1429.1" y2="1532.01" stroke="#BFBF00" stroke-width="4.84" stroke-linecap="round"/><line x1="1429.1" y1="1532.01" x2="1417.7" y2="1522.2" stroke="#BFBF00" stroke-width="3.87" stroke-linecap="round"/><line x1="1417.7" y1="1522.2" x2="1432.35" y2="1522.2" stroke="#BFBF00" stroke-width="5.10" stroke-linecap="round"/><line x1="1432.35" y1="1522.2" x2="1436" y2="1511.2" stroke="#BFBF00" stroke-width="4.84" stroke-linecap="round"/><line x1="1668.5" y1="1520.8" x2="1672.15" y2="1531.8" stroke="#BFBF00" stroke-width="4.84" stroke-linecap="round"/><line x1="1672.15" y1="1531.8" x2="1686.8" y2="1531.8" stroke="#BFBF00" stroke-width="5.10" stroke-linecap="round"/><line x1="1686.8" y1="1531.8" x2="1675.4" y2="1541.61" stroke="#BFBF00" stroke-width="3.87" stroke-linecap="round"/><line x1="1675.4" y1="1541.61" x2="1680.9" y2="1558.2" stroke="#BFBF00" stroke-width="4.84" stroke-linecap="round"/><line x1="1680.9" y1="1558.2" x2="1668.5" y2="1547.54" stroke="#BFBF00" stroke-width="3.87" stroke-linecap="round"/><line x1="1668.5" y1="1547.54" x2="1656.1" y2="1558.2" stroke="#BFBF00" stroke-width="3.87" stroke-linecap="round"/><line x1="1656.1" y1="1558.2" x2="1661.6" y2="1541.61" stroke="#BFBF00" stroke-width="4.84" stroke-linecap="round"/><line x1="1661.6" y1="1541.61" x2="1650.2" y2="1531.8" stroke="#BFBF00" stroke-width="3.87" stroke-linecap="round"/><line x1="1650.2" y1="1531.8" x2="1664.85" y2="1531.8" stroke="#BFBF00" stroke-width="5.10" stroke-linecap="round"/><line x1="1664.85" y1="1531.8" x2="1668.5" y2="1520.8" stroke="#BFBF00" stroke-width="4.84" stroke-linecap="round"/><line x1="1901" y1="1530.4" x2="1904.65" y2="1541.4" stroke="#BFBF00" stroke-width="4.84" stroke-linecap="round"/><line x1="1904.65" y1="1541.4" x2="1919.3" y2="1541.4" stroke="#BFBF00" stroke-width="5.10" stroke-linecap="round"/><line x1="1919.3" y1="1541.4" x2="1907.9" y2="1551.21" stroke="#BFBF00" stroke-width="3.87" stroke-linecap="round"/><line x1="1907.9" y1="1551.21" x2="1913.4" y2="1567.8" stroke="#BFBF00" stroke-width="4.84" stroke-linecap="round"/><line x1="1913.4" y1="1567.8" x2="1901" y2="1557.14" stroke="#BFBF00" stroke-width="3.87" stroke-linecap="round"/><line x1="1901" y1="1557.14" x2="1888.6" y2="1567.8" stroke="#BFBF00" stroke-width="3.87" stroke-linecap="round"/><line x1="1888.6" y1="1567.8" x2="1894.1" y2="1551.21" stroke="#BFBF00" stroke-width="4.84" stroke-linecap="round"/><line x1="1894.1" y1="1551.21" x2="1882.7" y2="1541.4" stroke="#BFBF00" stroke-width="3.87" stroke-linecap="round"/><line x1="1882.7" y1="1541.4" x2="1897.35" y2="1541.4" stroke="#BFBF00" stroke-width="5.10" stroke-linecap="round"/><line x1="1897.35" y1="1541.4" x2="1901" y2="1530.4" stroke="#BFBF00" stroke-width="4.84" stroke-linecap="round"/><line x1="2133.5" y1="1540.1" x2="2137.15" y2="1551.1" stroke="#BFBF00" stroke-width="4.84" stroke-linecap="round"/><line x1="2137.15" y1="1551.1" x2="2151.8" y2="1551.1" stroke="#BFBF00" stroke-width="5.10" stroke-linecap="round"/><line x1="2151.8" y1="1551.1" x2="2140.4" y2="1560.91" stroke="#BFBF00" stroke-width="3.87" stroke-linecap="round"/><line x1="2140.4" y1="1560.91" x2="2145.9" y2="1577.5" stroke="#BFBF00" stroke-width="4.84" stroke-linecap="round"/><line x1="2145.9" y1="1577.5" x2="2133.5" y2="1566.84" stroke="#BFBF00" stroke-width="3.87" stroke-linecap="round"/><line x1="2133.5" y1="1566.84" x2="2121.1" y2="1577.5" stroke="#BFBF00" stroke-width="3.87" stroke-linecap="round"/><line x1="2121.1" y1="1577.5" x2="2126.6" y2="1560.91" stroke="#BFBF00" stroke-width="4.84" stroke-linecap="round"/><line x1="2126.6" y1="1560.91" x2="2115.2" y2="1551.1" stroke="#BFBF00" stroke-width="3.87" stroke-linecap="round"/><line x1="2115.2" y1="1551.1" x2="2129.85" y2="1551.1" stroke="#BFBF00" stroke-width="5.10" stroke-linecap="round"/><line x1="2129.85" y1="1551.1" x2="2133.5" y2="1540.1" stroke="#BFBF00" stroke-width="4.84" stroke-linecap="round"/><line x1="2368" y1="1544.5" x2="2371.65" y2="1555.5" stroke="#BFBF00" stroke-width="4.84" stroke-linecap="round"/><line x1="2371.65" y1="1555.5" x2="2386.3" y2="1555.5" stroke="#BFBF00" stroke-width="5.10" stroke-linecap="round"/><line x1="2386.3" y1="1555.5" x2="2374.9" y2="1565.31" stroke="#BFBF00" stroke-width="3.87" stroke-linecap="round"/><line x1="2374.9" y1="1565.31" x2="2380.4" y2="1581.9" stroke="#BFBF00" stroke-width="4.84" stroke-linecap="round"/><line x1="2380.4" y1="1581.9" x2="2368" y2="1571.24" stroke="#BFBF00" stroke-width="3.87" stroke-linecap="round"/><line x1="2368" y1="1571.24" x2="2355.6" y2="1581.9" stroke="#BFBF00" stroke-width="3.87" stroke-linecap="round"/><line x1="2355.6" y1="1581.9" x2="2361.1" y2="1565.31" stroke="#BFBF00" stroke-width="4.84" stroke-linecap="round"/><line x1="2361.1" y1="1565.31" x2="2349.7" y2="1555.5" stroke="#BFBF00" stroke-width="3.87" stroke-linecap="round"/><line x1="2349.7" y1="1555.5" x2="2364.35" y2="1555.5" stroke="#BFBF00" stroke-width="5.10" stroke-linecap="round"/><line x1="2364.35" y1="1555.5" x2="2368" y2="1544.5" stroke="#BFBF00" stroke-width="4.84" stroke-linecap="round"/></g>
</g>
<g stroke="#000" stroke-width="5.5" fill="none" stroke-linecap="square">
<rect x="270" y="76" width="2101" height="1660"/>
<path d="M502 1736V1709M502 76V98M735 1736V1709M735 76V98M967 1736V1709M967 76V98M1199.5 1736V1709M1199.5 76V98M1436 1736V1709M1436 76V98M1668.5 1736V1709M1668.5 76V98M1901 1736V1709M1901 76V98M2133.5 1736V1709M2133.5 76V98M270 406.5H291M2371 406.5H2344M270 736.3H291M2371 736.3H2344M270 1071.5H291M2371 1071.5H2344M270 1401.5H291M2371 1401.5H2344" stroke-width="5" stroke-linecap="butt"/>
</g>
<text transform="translate(251.11 1810.00) scale(0.9100 1)" x="0" y="0" font-size="70" clip-path="url(#cx1)">1</text>
<text transform="translate(481.79 1810.00) scale(0.9100 1)" x="0" y="0" font-size="70">2</text>
<text transform="translate(713.97 1810.00) scale(0.9100 1)" x="0" y="0" font-size="70">3</text>
<text transform="translate(946.29 1810.00) scale(0.9100 1)" x="0" y="0" font-size="70">4</text>
<text transform="translate(1178.55 1810.00) scale(0.9100 1)" x="0" y="0" font-size="70">5</text>
<text transform="translate(1415.97 1810.00) scale(0.9100 1)" x="0" y="0" font-size="70">6</text>
<text transform="translate(1648.46 1810.00) scale(0.9100 1)" x="0" y="0" font-size="70">7</text>
<text transform="translate(1880.79 1810.00) scale(0.9100 1)" x="0" y="0" font-size="70">8</text>
<text transform="translate(2113.10 1810.00) scale(0.9100 1)" x="0" y="0" font-size="70">9</text>
<text transform="translate(2330.05 1810.00) scale(0.9100 1)" x="0 38.93" y="0" font-size="70" clip-path="url(#cx10)">10</text>
<text transform="translate(157.56 98.50) scale(0.9160 1)" x="0 38.93 58.38" y="0" font-size="70">3.5</text>
<text transform="translate(211.27 429.00) scale(0.9130 1)" x="0" y="0" font-size="70">3</text>
<text transform="translate(156.77 758.80) scale(0.9180 1)" x="0 38.93 58.38" y="0" font-size="70">2.5</text>
<text transform="translate(209.31 1094.00) scale(0.9627 1)" x="0" y="0" font-size="70">2</text>
<text transform="translate(158.43 1424.00) scale(0.9014 1)" x="0 38.93 58.38" y="0" font-size="70" clip-path="url(#cy1_5)">1.5</text>
<text transform="translate(211.29 1758.50) scale(0.9967 1)" x="0" y="0" font-size="70" clip-path="url(#cy1)">1</text>
<text transform="translate(521.87 1894.00) scale(0.8925 1)" x="0 50.55 89.48 147.79 186.72 225.65 248.96 268.41 307.34 326.79 346.24 361.79 400.72 420.17 459.1 482.41 501.86 540.79 575.79 614.72 649.72 669.17 708.1 747.03 766.48 817.03 855.96 894.89 933.82 953.27 999.96 1050.51 1069.96 1108.89 1147.82 1186.75 1206.2 1252.89 1299.58 1342.34 1361.79 1416.24 1455.17 1497.92 1517.37 1536.82 1575.75 1614.68 1634.13 1669.13 1708.06 1746.99" y="0" font-size="70">Number of interfaces between BC and YSZ/GdZ top coat</text>
<g transform="translate(112 1122) rotate(-90)"><text transform="translate(-5.18 0.00) scale(0.9023 1)" x="0 50.55 89.48 112.79 171.1 210.03 225.59 241.14 276.14 315.07 354 373.45 420.14 439.58" y="0" font-size="70">Normalized SIF</text></g>
<text transform="translate(425.22 525.50) scale(0.8960 1)" x="0 46.69 93.38 136.14 155.59 198.34 252.79 272.24 315 361.69 412.24 431.69 455 493.93 513.38 536.69 556.14 595.07 634 653.45 669 707.93 742.93 781.86 805.17 840.17" y="0" font-size="70" clip-path="url(#ca1)">YSZ FG TBC (1 - 10 layers)</text>
<text transform="translate(1569.34 1257.80) scale(0.8990 1)" x="0 54.45 93.38 112.83 147.83 163.38 186.69 221.69 260.62 299.55 338.48 357.93 396.86 416.31 439.62 478.55 498 521.31 540.76 579.69" y="0" font-size="70" clip-path="url(#ca2)">Gd zirconate (1 - 10</text>
<text transform="translate(1709.57 1335.70) scale(0.8975 1)" x="0 15.55 54.48 89.48 128.41 151.72 186.72 206.17 248.93 303.38 322.83 365.59 412.28 462.83" y="0" font-size="70">layers FG TBC)</text>
<line x1="809" y1="540.8" x2="464.62" y2="1279.98" stroke="#000" stroke-width="4.62" stroke-linecap="butt"/><polygon points="443.5,1325.3 497.93,1271.23 464.62,1279.98 449.89,1248.84" fill="#000"/>
<line x1="1563" y1="1273.6" x2="788.44" y2="1629.33" stroke="#000" stroke-width="4.63" stroke-linecap="butt"/><polygon points="743,1650.2 819.49,1644.23 788.44,1629.33 797.37,1596.07" fill="#000"/>
<defs><clipPath id="cx1" clipPathUnits="userSpaceOnUse"><path clip-rule="evenodd" d="M-100000 -100000H100000V100000H-100000ZM3.96 -6.83H17.60V1.50H3.96ZM23.79 -6.83H36.88V1.50H23.79Z"/></clipPath><clipPath id="cx10" clipPathUnits="userSpaceOnUse"><path clip-rule="evenodd" d="M-100000 -100000H100000V100000H-100000ZM3.96 -6.83H17.60V1.50H3.96ZM23.79 -6.83H36.88V1.50H23.79Z"/></clipPath><clipPath id="cy1_5" clipPathUnits="userSpaceOnUse"><path clip-rule="evenodd" d="M-100000 -100000H100000V100000H-100000ZM3.96 -6.83H17.60V1.50H3.96ZM23.79 -6.83H36.88V1.50H23.79Z"/></clipPath><clipPath id="cy1" clipPathUnits="userSpaceOnUse"><path clip-rule="evenodd" d="M-100000 -100000H100000V100000H-100000ZM3.96 -6.83H17.60V1.50H3.96ZM23.79 -6.83H36.88V1.50H23.79Z"/></clipPath><clipPath id="ca1" clipPathUnits="userSpaceOnUse"><path clip-rule="evenodd" d="M-100000 -100000H100000V100000H-100000ZM458.96 -6.83H472.60V1.50H458.96ZM478.79 -6.83H491.88V1.50H478.79ZM560.10 -6.83H573.74V1.50H560.10ZM579.93 -6.83H593.02V1.50H579.93Z"/></clipPath><clipPath id="ca2" clipPathUnits="userSpaceOnUse"><path clip-rule="evenodd" d="M-100000 -100000H100000V100000H-100000ZM443.58 -6.83H457.22V1.50H443.58ZM463.41 -6.83H476.50V1.50H463.41ZM544.72 -6.83H558.36V1.50H544.72ZM564.55 -6.83H577.64V1.50H564.55Z"/></clipPath></defs>
</svg></body></html>
